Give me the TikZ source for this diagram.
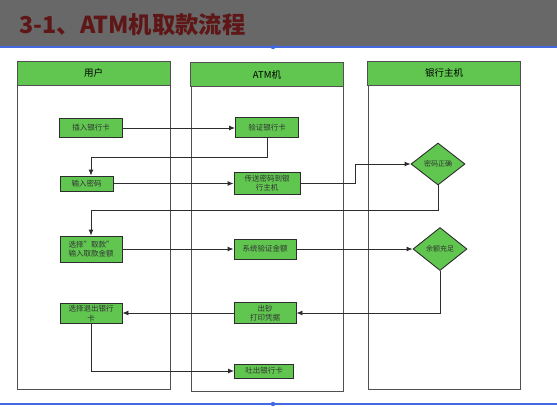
\documentclass[tikz,border=0pt]{standalone}
\usepackage{fontspec}
\setmainfont{Noto Sans CJK SC}
\usetikzlibrary{shapes.geometric,arrows.meta}
\definecolor{boxgreen}{RGB}{96,198,80}
\definecolor{titlered}{RGB}{95,22,22}
\definecolor{bandgrey}{RGB}{104,104,104}
\definecolor{rulerblue}{RGB}{66,104,226}
\definecolor{laneline}{RGB}{80,80,80}
\definecolor{flowline}{RGB}{45,45,45}

\begin{document}
\begin{tikzpicture}[x=1pt,y=-1pt]
                \useasboundingbox (0,0) rectangle (557,407);
                \fill[bandgrey] (0,0) rectangle (557,46);
                \node[anchor=west,text=titlered,font=\fontsize{23.3}{24}\selectfont\bfseries] (title) at (16,25) {3-1、ATM机取款流程};
                \draw[rulerblue,line width=1.2pt] (0,47) -- (557,47);
                \draw[rulerblue,line width=1.2pt] (0,404) -- (557,404);
                \fill[rulerblue] (273,47) circle (2.2);
                \fill[rulerblue] (273,404) circle (2.2);
                % swim lanes
                \begin{scope}[draw=laneline,line width=1pt]
                    \draw (17,61) rectangle (170,389);
                    \draw (191,62) rectangle (343,391);
                    \draw (368,61) rectangle (520,389);
                \end{scope}
                \begin{scope}[every node/.style={rectangle,draw=laneline,line width=1pt,fill=boxgreen,minimum width=153,minimum height=24,inner sep=0,font=\fontsize{9.5}{10}\selectfont}]
                    \node (user) at (93.5,73) {用户};
                    \node (atm) at (267,74.5) {ATM机};
                    \node (bank) at (444,73) {银行主机};
                \end{scope}
                % steps
                \begin{scope}[every node/.style={rectangle,draw=flowline,line width=0.9pt,fill=boxgreen,inner sep=0,align=center,text=black!80,font=\fontsize{7.5}{9.5}\selectfont}]
                    \node[minimum width=63,minimum height=19] (card) at (91,128) {插入银行卡};
                    \node[minimum width=53,minimum height=15] (pin) at (86.5,183.5) {输入密码};
                    \node[minimum width=62,minimum height=26] (take) at (91,249) {选择"取款"\\输入取款金额};
                    \node[minimum width=62,minimum height=20,text width=58] (quit) at (91,313.5) {选择退出银行\\卡};
                    \node[minimum width=63,minimum height=20] (vcard) at (267,127.5) {验证银行卡};
                    \node[minimum width=66,minimum height=22] (send) at (267,183) {传送密码到银\\行主机};
                    \node[minimum width=62,minimum height=20] (check) at (265,249) {系统验证金额};
                    \node[minimum width=62,minimum height=21] (cash) at (265,313) {出钞\\打印凭据};
                    \node[minimum width=59,minimum height=14] (eject) at (264,371) {吐出银行卡};
                    \node[diamond,minimum width=54,minimum height=42,font=\fontsize{7}{9}\selectfont] (pwdok) at (438,164) {密码正确};
                    \node[diamond,minimum width=54,minimum height=43,font=\fontsize{7}{9}\selectfont] (enough) at (440,249) {余额充足};
                \end{scope}
                \coordinate (k1) at (267,157);
                \coordinate (k2) at (355,183);
                \coordinate (k3) at (91,210);
                \coordinate (k4) at (91,371);
                % flow
                \begin{scope}[every path/.style={draw=flowline,line width=0.9pt,-{Latex[length=6pt,width=5pt]}}]
                    \draw (card.east) -- (card.east -| vcard.west);
                    \draw (vcard.south) |- (k1 -| card) -- (card |- pin.north);
                    \draw (pin.east) -- (pin.east -| send.west);
                    \draw (send.east) -- (k2) |- (pwdok.west);
                    \draw (pwdok.south) |- (k3) -- (take.north);
                    \draw (take.east) -- (take.east -| check.west);
                    \draw (check.east) -- (enough.west);
                    \draw (enough.south) |- (cash.east);
                    \draw (cash.west) -- (cash.west -| quit.east);
                    \draw (quit.south) -- (k4) -- (eject.west);
                \end{scope}
            \end{tikzpicture}
\end{document}
